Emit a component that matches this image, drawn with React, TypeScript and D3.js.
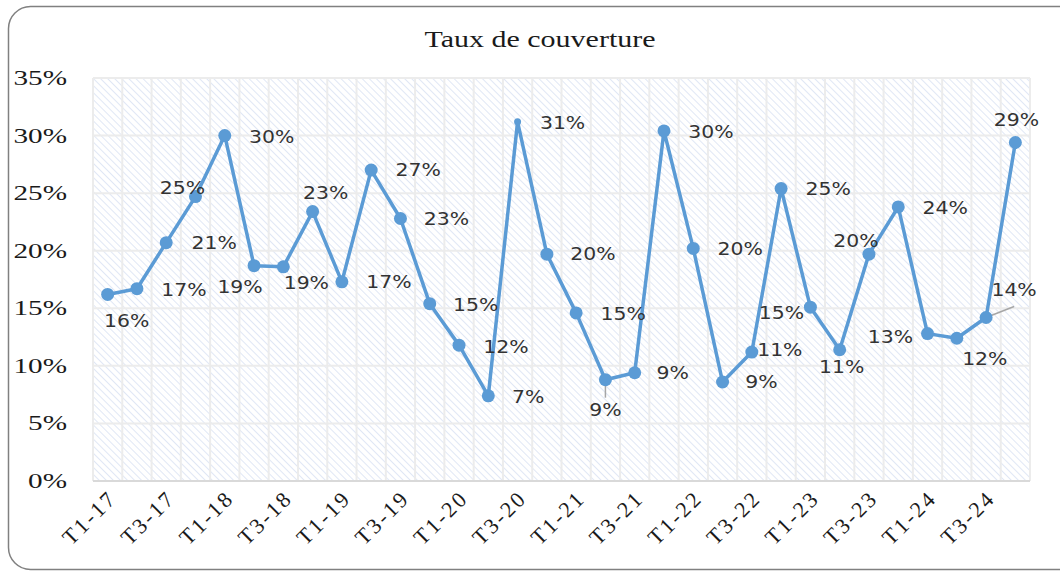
import React, { useEffect, useRef } from 'react';
import * as d3 from 'd3';

const categories = [
  'T1-17', 'T2-17', 'T3-17', 'T4-17', 'T1-18', 'T2-18', 'T3-18', 'T4-18',
  'T1-19', 'T2-19', 'T3-19', 'T4-19', 'T1-20', 'T2-20', 'T3-20', 'T4-20',
  'T1-21', 'T2-21', 'T3-21', 'T4-21', 'T1-22', 'T2-22', 'T3-22', 'T4-22',
  'T1-23', 'T2-23', 'T3-23', 'T4-23', 'T1-24', 'T2-24', 'T3-24', 'T4-24',
];
// taux de couverture, en %
const coverage = [
  16.2, 16.7, 20.7, 24.7, 30.0, 18.7, 18.6, 23.4,
  17.3, 27.0, 22.8, 15.4, 11.8, 7.4, 31.2, 19.7,
  14.6, 8.8, 9.4, 30.4, 20.2, 8.6, 11.2, 25.4,
  15.1, 11.4, 19.7, 23.8, 12.8, 12.4, 14.2, 29.4,
];
const yTicks = [0, 5, 10, 15, 20, 25, 30, 35];
const xTickLabels = categories.filter((_, i) => i % 2 === 0);

// where each data label sits relative to its point (layout only)
const labelOffsets: [number, number][] = [
  [19, 26], [47, 1], [48, 0], [-13, -9], [47, 1], [-14, 21], [23, 16], [13, -19],
  [47, 0], [47, 0], [46, 0], [46, 1], [47, 2], [40, 1], [45, 1], [46, 0],
  [47, 1], [0, 30], [38, 0], [47, 1], [47, 0], [39, 0], [28, -2], [47, 0],
  [-29, 6], [2, 17], [-13, -13], [47, 1], [-37, 3], [28, 21], [28, -28], [1, -23],
];
const leaderLines: Record<number, [number, number]> = { 17: [0, 18], 30: [28, -11] };

const W = 1060;
const H = 572;
const margin = { left: 93, right: 30, top: 78, bottom: 91 };

export default function App() {
  const ref = useRef<SVGSVGElement>(null);

  useEffect(() => {
    const svg = d3.select(ref.current);
    svg.selectAll('*').remove();

    const x = d3.scaleBand().domain(categories).range([margin.left, W - margin.right]);
    const y = d3.scaleLinear().domain([0, 35]).range([H - margin.bottom, margin.top]);
    const cx = (c: string) => (x(c) as number) + x.bandwidth() / 2;

    const defs = svg.append('defs');
    const pat = defs.append('pattern')
      .attr('id', 'hatch')
      .attr('patternUnits', 'userSpaceOnUse')
      .attr('width', 5)
      .attr('height', 5)
      .attr('patternTransform', 'rotate(-45)');
    pat.append('rect').attr('width', 5).attr('height', 5).attr('fill', '#ffffff');
    pat.append('line')
      .attr('x1', 0).attr('y1', 0).attr('x2', 0).attr('y2', 5)
      .attr('stroke', '#cfdbf1')
      .attr('stroke-width', 1.3);

    // outer frame
    svg.append('rect')
      .attr('x', 8.5).attr('y', 6.5)
      .attr('width', 1100).attr('height', 563)
      .attr('rx', 22)
      .attr('fill', '#fff')
      .attr('stroke', '#808080')
      .attr('stroke-width', 1.5);

    svg.append('text')
      .attr('transform', `translate(${W / 2 + 10},47) scale(1.25,1)`)
      .attr('text-anchor', 'middle')
      .attr('font-family', '"Liberation Serif", serif')
      .attr('font-size', 24)
      .attr('fill', '#1a1a1a')
      .text('Taux de couverture');

    const [x0, x1] = x.range();
    svg.append('rect')
      .attr('x', x0).attr('y', y(35))
      .attr('width', x1 - x0).attr('height', y(0) - y(35))
      .attr('fill', 'url(#hatch)');

    // gridlines
    const grid = svg.append('g').attr('stroke', '#ececec').attr('stroke-width', 2);
    grid.selectAll('line.h')
      .data(yTicks.slice(1))
      .join('line')
      .attr('class', 'h')
      .attr('x1', x0).attr('x2', x1)
      .attr('y1', (d) => y(d)).attr('y2', (d) => y(d));
    grid.selectAll('line.v')
      .data(d3.range(categories.length + 1))
      .join('line')
      .attr('class', 'v')
      .attr('x1', (i) => x0 + i * x.step()).attr('x2', (i) => x0 + i * x.step())
      .attr('y1', y(35)).attr('y2', y(0));
    svg.append('line')
      .attr('x1', x0).attr('x2', x1)
      .attr('y1', y(0)).attr('y2', y(0))
      .attr('stroke', '#d9d9d9').attr('stroke-width', 2);

    // y axis labels
    svg.append('g')
      .selectAll('text')
      .data(yTicks)
      .join('text')
      .attr('transform', (d) => `translate(67,${y(d)}) scale(1.46,1)`)
      .attr('dy', '0.35em')
      .attr('text-anchor', 'end')
      .attr('font-family', '"Liberation Serif", serif')
      .attr('font-size', 20)
      .attr('fill', '#1a1a1a')
      .text((d) => d + '%');

    // x axis labels
    svg.append('g')
      .selectAll('text')
      .data(xTickLabels)
      .join('text')
      .attr('transform', (d) => `translate(${cx(d) + 5},${y(0) + 13}) rotate(-45)`)
      .attr('dy', '0.35em')
      .attr('text-anchor', 'end')
      .attr('font-family', '"Liberation Serif", serif')
      .attr('font-size', 22)
      .attr('letter-spacing', 2.5)
      .attr('fill', '#1a1a1a')
      .text((d) => d);

    const line = d3.line<number>()
      .x((_, i) => cx(categories[i]))
      .y((d) => y(d));

    svg.append('path')
      .datum(coverage)
      .attr('d', line)
      .attr('fill', 'none')
      .attr('stroke', '#5b9bd5')
      .attr('stroke-width', 3.5)
      .attr('stroke-linejoin', 'round');

    // leader lines
    Object.entries(leaderLines).forEach(([k, [dx, dy]]) => {
      const i = +k;
      const px = cx(categories[i]);
      const py = y(coverage[i]);
      svg.append('line')
        .attr('x1', px).attr('y1', py + (dy > 0 ? 4 : 0))
        .attr('x2', px + dx).attr('y2', py + dy)
        .attr('stroke', '#a6a6a6').attr('stroke-width', 1.5);
    });

    svg.append('g')
      .selectAll('circle')
      .data(coverage)
      .join('circle')
      .attr('cx', (_, i) => cx(categories[i]))
      .attr('cy', (d) => y(d))
      .attr('r', (_, i) => (i === 14 ? 3.5 : 6.5))
      .attr('fill', '#5b9bd5');

    svg.append('g')
      .selectAll('text')
      .data(coverage)
      .join('text')
      .attr('transform', (d, i) =>
        `translate(${cx(categories[i]) + labelOffsets[i][0]},${y(d) + labelOffsets[i][1]}) scale(1.2,1)`)
      .attr('dy', '0.36em')
      .attr('text-anchor', 'middle')
      .attr('font-family', '"DejaVu Sans", sans-serif')
      .attr('font-size', 17)
      .attr('fill', '#333333')
      .text((d) => Math.round(d) + '%');
  }, []);

  return (
    <svg
      ref={ref}
      width={W}
      height={H}
      style={{ position: 'absolute', left: 0, top: 0, display: 'block' }}
    />
  );
}
